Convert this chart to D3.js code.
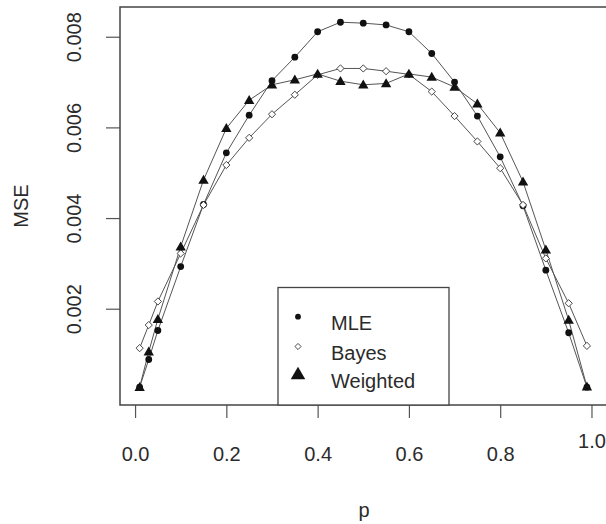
<!DOCTYPE html>
<html>
<head>
<meta charset="utf-8">
<script src="https://cdn.jsdelivr.net/npm/d3@7.9.0/dist/d3.min.js"></script>
<style>
  body { margin: 0; background: #fff; }
  svg { display: block; font-family: "Liberation Sans", Arial, sans-serif; }
  text { fill: #2b2b2b; }
</style>
</head>
<body>
<div id="chart"></div>
<script>
const pValues = [0.01, 0.03, 0.05, 0.1, 0.15, 0.2, 0.25, 0.3, 0.35, 0.4, 0.45, 0.5,
  0.55, 0.6, 0.65, 0.7, 0.75, 0.8, 0.85, 0.9, 0.95, 0.99];
const mle = [0.00027, 0.00088, 0.00152, 0.00293, 0.00430, 0.00544, 0.00627, 0.00703, 0.00755, 0.00811, 0.00832, 0.00830,
  0.00826, 0.00811, 0.00763, 0.00700, 0.00625, 0.00535, 0.00427, 0.00285, 0.00147, 0.00027];
const bayes = [0.00113, 0.00164, 0.00216, 0.00322, 0.00429, 0.00517, 0.00577, 0.00629, 0.00672, 0.00716, 0.00730, 0.00730,
  0.00724, 0.00717, 0.00679, 0.00625, 0.00569, 0.00510, 0.00429, 0.00311, 0.00212, 0.00118];
const weighted = [0.00027, 0.00105, 0.00177, 0.00337, 0.00484, 0.00598, 0.00660, 0.00694, 0.00705, 0.00718, 0.00702, 0.00694,
  0.00697, 0.00718, 0.00711, 0.00689, 0.00652, 0.00588, 0.00480, 0.00330, 0.00175, 0.00028];
const xTicks = [0, 0.2, 0.4, 0.6, 0.8, 1.0];
const yTicks = [0.002, 0.004, 0.006, 0.008];
const seriesNames = ['MLE', 'Bayes', 'Weighted'];

const width = 606, height = 524;
const plot = { left: 120, right: 607, top: 7, bottom: 405 };

const svg = d3.select('#chart').append('svg')
  .attr('width', width).attr('height', height);

const x = d3.scaleLinear().domain([-0.033, 1.034]).range([plot.left, plot.right]);
const y = d3.scaleLinear().domain([-0.000124, 0.008656]).range([plot.bottom, plot.top]);

// axes
const xAxis = svg.append('g')
  .attr('transform', `translate(0, ${plot.bottom})`)
  .call(d3.axisBottom(x).tickValues(xTicks).tickSize(13).tickSizeOuter(0).tickFormat(d3.format('.1f')));
xAxis.select('.domain').remove();
xAxis.selectAll('line').attr('stroke', '#555').attr('stroke-width', 1.2);
xAxis.selectAll('text')
  .attr('y', 0).attr('dy', d => d === 1 ? 42.5 : 56)
  .attr('font-size', 20).attr('fill', '#2b2b2b')
  .attr('font-family', '"Liberation Sans", Arial, sans-serif');

const yAxis = svg.append('g')
  .attr('transform', `translate(${plot.left}, 0)`)
  .call(d3.axisLeft(y).tickValues(yTicks).tickSize(14).tickSizeOuter(0).tickFormat(d3.format('.3f')));
yAxis.select('.domain').remove();
yAxis.selectAll('line').attr('stroke', '#555').attr('stroke-width', 1.2);
yAxis.selectAll('text')
  .attr('x', 0).attr('dy', 0)
  .attr('transform', 'translate(-39, 0) rotate(-90)')
  .attr('text-anchor', 'middle')
  .attr('font-size', 20).attr('fill', '#2b2b2b')
  .attr('font-family', '"Liberation Sans", Arial, sans-serif');

// plot box
svg.append('rect')
  .attr('x', plot.left).attr('y', plot.top)
  .attr('width', plot.right - plot.left).attr('height', plot.bottom - plot.top)
  .attr('fill', 'none').attr('stroke', '#444').attr('stroke-width', 1.5);

// axis titles
svg.append('text')
  .attr('x', 364).attr('y', 517)
  .attr('text-anchor', 'middle').attr('font-size', 20)
  .text('p');
svg.append('text')
  .attr('transform', 'translate(28, 206) rotate(-90)')
  .attr('text-anchor', 'middle').attr('font-size', 20)
  .text('MSE');

// series
const series = [
  { name: 'MLE', values: mle },
  { name: 'Bayes', values: bayes },
  { name: 'Weighted', values: weighted },
];

const line = d3.line().x(d => x(d[0])).y(d => y(d[1]));

series.forEach(s => {
  svg.append('path')
    .datum(pValues.map((p, i) => [p, s.values[i]]))
    .attr('d', line)
    .attr('fill', 'none')
    .attr('stroke', '#555')
    .attr('stroke-width', 1);
});

function drawMarker(g, name, cx, cy, scale) {
  if (name === 'MLE') {
    g.append('circle').attr('cx', cx).attr('cy', cy).attr('r', 3.4 * scale)
      .attr('fill', '#111');
  } else if (name === 'Bayes') {
    const r = 3.6 * scale;
    g.append('path')
      .attr('d', `M${cx},${cy - r}L${cx + r},${cy}L${cx},${cy + r}L${cx - r},${cy}Z`)
      .attr('fill', '#fff').attr('stroke', '#333').attr('stroke-width', 0.9);
  } else {
    const w = 5.2 * scale, h = 9 * scale;
    g.append('path')
      .attr('d', `M${cx},${cy - h * 0.58}L${cx + w},${cy + h * 0.42}L${cx - w},${cy + h * 0.42}Z`)
      .attr('fill', '#111');
  }
}

const marks = svg.append('g');
series.forEach(s => {
  pValues.forEach((p, i) => drawMarker(marks, s.name, x(p), y(s.values[i]), 1));
});

// legend
const legend = svg.append('g');
legend.append('rect')
  .attr('x', 278).attr('y', 287.5)
  .attr('width', 171).attr('height', plot.bottom - 287.5)
  .attr('fill', '#fff').attr('stroke', '#444').attr('stroke-width', 1.3);

const legendRows = [316.7, 346.5, 374];
seriesNames.forEach((name, i) => {
  drawMarker(legend, name, 298, legendRows[i], name === 'Weighted' ? 1.4 : 0.85);
  legend.append('text')
    .attr('x', 331).attr('y', legendRows[i] + 13.5)
    .attr('font-size', 20)
    .text(name);
});
</script>
</body>
</html>
